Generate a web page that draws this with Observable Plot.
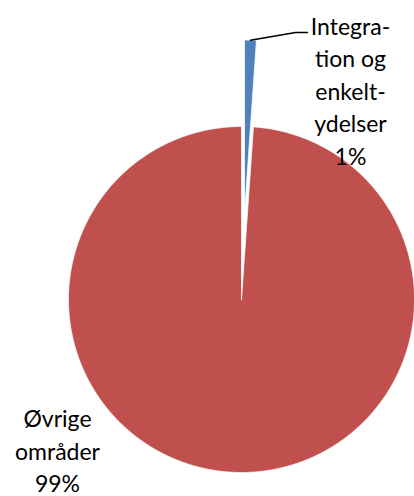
<!DOCTYPE html>
<html><head><meta charset="utf-8">
<script src="https://cdn.jsdelivr.net/npm/d3@7"></script>
<script src="https://cdn.jsdelivr.net/npm/@observablehq/plot@0.6"></script>
<style>html,body{margin:0;padding:0;background:#fff}</style>
</head><body><div id="chart"></div>
<script>
// ---- data ----
const categories = ["Integration og enkeltydelser", "Øvrige områder"];
const labelLines = [["Integra-", "tion og", "enkelt-", "ydelser"], ["Øvrige", "områder"]];
const shares = [1.1, 98.9];
const percentLabels = ["1%", "99%"];
const colors = ["#4F81BD", "#C0504D"];

// ---- layout ----
const W = 414, H = 496, cx = 241, cy = 299, R = 173;
const explode = [0.5, 0];
const labelAnchor = [{x: 350, y: 89}, {x: 57, y: 449}];
const fs = 23, lh = 32.5;

const arcs = d3.pie().sort(null).value(d => d)(shares);
const slices = arcs.map((a, i) => {
  const mid = (a.startAngle + a.endAngle) / 2;
  const ccx = cx + Math.sin(mid) * R * explode[i];
  const ccy = cy - Math.cos(mid) * R * explode[i];
  const pts = [{x: ccx, y: ccy}];
  const n = Math.max(6, Math.ceil((a.endAngle - a.startAngle) / 0.005));
  for (let j = 0; j <= n; j++) {
    const t = a.startAngle + (a.endAngle - a.startAngle) * j / n;
    pts.push({x: ccx + R * Math.sin(t), y: ccy - R * Math.cos(t)});
  }
  pts.push({x: ccx, y: ccy});
  return {i, pts, outer: {x: ccx + R * Math.sin(mid), y: ccy - R * Math.cos(mid)}};
});

const labels = categories.map((c, i) => ({
  text: labelLines[i].join("\n") + "\n" + percentLabels[i],
  x: labelAnchor[i].x, y: labelAnchor[i].y
}));

// leader line for the small slice
const lead0 = slices[0].outer;
const firstLineY = labelAnchor[0].y - 2 * lh + 8;
const leader = [
  {x: lead0.x, y: lead0.y},
  {x: labelAnchor[0].x - 55, y: firstLineY},
  {x: labelAnchor[0].x - 43, y: firstLineY}
];

const order = [1, 0];
const chart = Plot.plot({
  width: W, height: H,
  margin: 0,
  x: {domain: [0, W], range: [0, W], axis: null},
  y: {domain: [0, H], range: [0, H], axis: null},
  style: {background: "#fff", fontFamily: "Lato, Carlito, sans-serif"},
  marks: [
    ...order.map(i => Plot.line(slices[i].pts, {
      x: "x", y: "y", fill: colors[i], stroke: "white", strokeWidth: 0.75, curve: "linear"
    })),
    Plot.line(leader, {x: "x", y: "y", stroke: "black", strokeWidth: 1.5}),
    Plot.text(labels, {
      x: "x", y: "y", text: "text",
      fontSize: fs, lineHeight: lh / fs, textAnchor: "middle", lineAnchor: "middle",
      fill: "black", fontFamily: "Lato, Carlito, sans-serif"
    })
  ]
});
document.getElementById("chart").appendChild(chart);
</script>
</body></html>
